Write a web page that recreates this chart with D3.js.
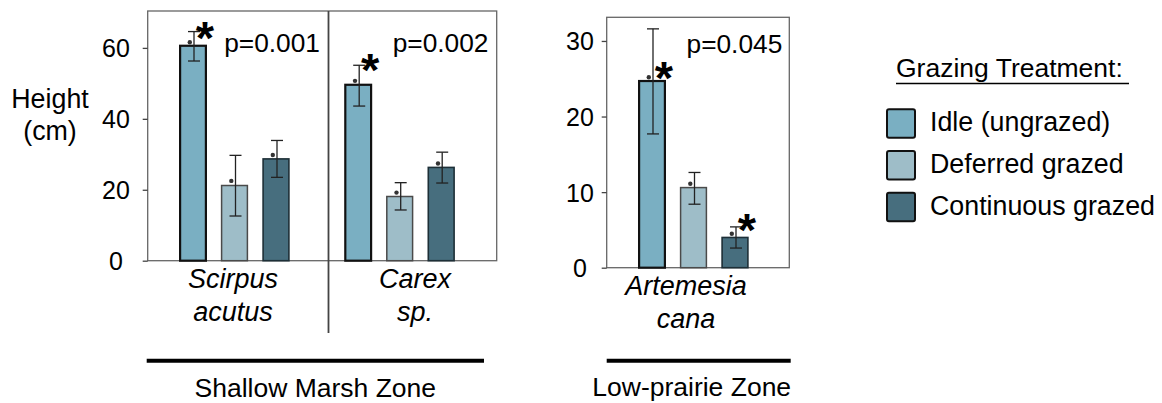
<!DOCTYPE html>
<html>
<head>
<meta charset="utf-8">
<script src="https://cdn.jsdelivr.net/npm/d3@7"></script>
<style>
  body { margin: 0; background: #fff; }
  svg { display: block; }
  text { font-family: "Liberation Sans", Arial, Helvetica, sans-serif; fill: #000; }
</style>
</head>
<body>
<svg id="chart" width="1162" height="403"></svg>
<script>
// Treatments and species
const treatments = ["Idle (ungrazed)", "Deferred grazed", "Continuous grazed"];
const marshSpecies = ["Scirpus acutus", "Carex sp."];
const prairieSpecies = ["Artemesia cana"];

// Mean plant height (cm) with error-bar limits and plotted point, per treatment
const scirpusMean  = [60.6, 21.2, 28.7];
const scirpusLow   = [56.3, 12.6, 23.5];
const scirpusHigh  = [64.6, 29.7, 33.9];
const scirpusPoint = [61.6, 22.5, 29.8];

const carexMean  = [49.6, 18.1, 26.3];
const carexLow   = [43.6, 14.3, 21.9];
const carexHigh  = [55.1, 22.0, 30.6];
const carexPoint = [50.7, 19.2, 27.4];

const artemesiaMean  = [24.7, 10.6, 4.0];
const artemesiaLow   = [17.7, 8.4, 2.6];
const artemesiaHigh  = [31.6, 12.6, 5.4];
const artemesiaPoint = [25.2, 11.1, 4.5];

// Significance markers: species, treatment, height at which the asterisk sits
const starSpecies   = ["Scirpus acutus", "Carex sp.", "Artemesia cana", "Artemesia cana"];
const starTreatment = ["Idle (ungrazed)", "Idle (ungrazed)", "Idle (ungrazed)", "Continuous grazed"];
const starHeight    = [65.6, 56.6, 26.4, 6.3];

const pLabels = ["p=0.001", "p=0.002", "p=0.045"];
const marshTicks = [0, 20, 40, 60];
const prairieTicks = [0, 10, 20, 30];
const zoneNames = ["Shallow Marsh Zone", "Low-prairie Zone"];
const speciesLines = { "Scirpus acutus": ["Scirpus", "acutus"], "Carex sp.": ["Carex", "sp."], "Artemesia cana": ["Artemesia", "cana"] };

const colors = d3.scaleOrdinal().domain(treatments).range(["#7aafc2", "#9ebdc8", "#476e7e"]);
const outlines = d3.scaleOrdinal().domain(treatments).range(["#111", "#4a4a4a", "#1d2f37"]);
const outlineWidth = d3.scaleOrdinal().domain(treatments).range([2.2, 1.5, 1.6]);

const svg = d3.select("#chart");
svg.append("rect").attr("width", 1162).attr("height", 403).attr("fill", "#fff");

function rows(species, mean, low, high, point) {
  return treatments.map((t, i) => ({ species, treatment: t, mean: mean[i], low: low[i], high: high[i], point: point[i] }));
}
const marshData = rows("Scirpus acutus", scirpusMean, scirpusLow, scirpusHigh, scirpusPoint)
  .concat(rows("Carex sp.", carexMean, carexLow, carexHigh, carexPoint));
const prairieData = rows("Artemesia cana", artemesiaMean, artemesiaLow, artemesiaHigh, artemesiaPoint);

// Offsets of the three treatment bars within a species group
const inner = d3.scalePoint().domain(treatments).range([-41.5, 41.5]);
const barW = 25.8;

const panels = [
  {
    species: marshSpecies, data: marshData, ticks: marshTicks,
    left: 147.7, right: 496.7, top: 11, bottom: 260.7, yMax: 70.4,
    group: d3.scalePoint().domain(marshSpecies).range([234.5, 399.7]),
    labelX: d3.scalePoint().domain(marshSpecies).range([233, 415]),
    labelY: 288.3, tickLabelX: 116, divider: 328.5,
    pRight: [320, 488.5], pBaseline: 51.7, p: [pLabels[0], pLabels[1]],
    zone: zoneNames[0], zoneLine: [146.7, 484], zoneCenter: 315.3, zoneBaseline: 396.7
  },
  {
    species: prairieSpecies, data: prairieData, ticks: prairieTicks,
    left: 606.7, right: 789.3, top: 17.3, bottom: 267.7, yMax: 33.13,
    group: d3.scalePoint().domain(prairieSpecies).range([693.5, 693.5]),
    labelX: d3.scalePoint().domain(prairieSpecies).range([686, 686]),
    labelY: 295, tickLabelX: 580, divider: null,
    pRight: [782.3], pBaseline: 52.7, p: [pLabels[2]],
    zone: zoneNames[1], zoneLine: [606.7, 790.7], zoneCenter: 691.7, zoneBaseline: 395.7
  }
];

panels.forEach(P => {
  const y = d3.scaleLinear().domain([0, P.yMax]).range([P.bottom, P.top]);
  const xc = d => P.group(d.species) + inner(d.treatment);
  const g = svg.append("g");

  // Frame
  g.append("rect")
    .attr("x", P.left).attr("y", P.top)
    .attr("width", P.right - P.left).attr("height", P.bottom - P.top)
    .attr("fill", "none").attr("stroke", "#666").attr("stroke-width", 1.3);

  // Y axis
  const ax = g.append("g").attr("transform", `translate(${P.left},0)`)
    .call(d3.axisLeft(y).tickValues(P.ticks).tickSize(5).tickFormat(d3.format("d")));
  ax.select(".domain").remove();
  ax.selectAll(".tick line").attr("stroke", "#444").attr("stroke-width", 1.3);
  ax.selectAll(".tick text")
    .attr("x", P.tickLabelX - P.left)
    .attr("text-anchor", "middle")
    .attr("dy", "0.36em")
    .style("font-size", "25px")
    .style("font-family", "'Liberation Sans', Arial, sans-serif")
    .attr("fill", "#000");

  if (P.divider !== null) {
    g.append("line")
      .attr("x1", P.divider).attr("x2", P.divider)
      .attr("y1", P.top).attr("y2", 333)
      .attr("stroke", "#444").attr("stroke-width", 1.8);
  }

  // Bars
  g.selectAll("rect.bar").data(P.data).join("rect")
    .attr("class", "bar")
    .attr("x", d => xc(d) - barW / 2)
    .attr("width", barW)
    .attr("y", d => y(d.mean))
    .attr("height", d => y(0) - y(d.mean))
    .attr("fill", d => colors(d.treatment))
    .attr("stroke", d => outlines(d.treatment))
    .attr("stroke-width", d => outlineWidth(d.treatment));

  // Error bars
  const eb = g.selectAll("g.err").data(P.data).join("g").attr("class", "err")
    .attr("stroke", "#222").attr("stroke-width", 1.3);
  eb.append("line")
    .attr("x1", d => xc(d) + 1).attr("x2", d => xc(d) + 1)
    .attr("y1", d => y(d.low)).attr("y2", d => y(d.high));
  eb.append("line")
    .attr("x1", d => xc(d) - 5).attr("x2", d => xc(d) + 7)
    .attr("y1", d => y(d.high)).attr("y2", d => y(d.high));
  eb.append("line")
    .attr("x1", d => xc(d) - 5).attr("x2", d => xc(d) + 7)
    .attr("y1", d => y(d.low)).attr("y2", d => y(d.low));

  // Points
  g.selectAll("circle.pt").data(P.data).join("circle")
    .attr("class", "pt")
    .attr("cx", d => xc(d) - 3.2)
    .attr("cy", d => y(d.point))
    .attr("r", 2.2)
    .attr("fill", "#333");

  // Significance asterisks
  const stars = starSpecies.map((s, i) => ({ species: s, treatment: starTreatment[i], h: starHeight[i] }))
    .filter(s => P.species.includes(s.species));
  g.selectAll("text.star").data(stars).join("text")
    .attr("class", "star")
    .attr("x", d => P.group(d.species) + inner(d.treatment) + 12)
    .attr("y", d => y(d.h) + 26)
    .attr("text-anchor", "middle")
    .style("font-size", "47px")
    .style("font-weight", "bold")
    .text("*");

  // p-values
  g.selectAll("text.p").data(P.p).join("text")
    .attr("class", "p")
    .attr("x", (d, i) => P.pRight[i])
    .attr("y", P.pBaseline)
    .attr("text-anchor", "end")
    .style("font-size", "26.3px")
    .text(d => d);

  // Species labels
  P.species.forEach(s => {
    speciesLines[s].forEach((line, i) => {
      g.append("text")
        .attr("x", P.labelX(s))
        .attr("y", P.labelY + i * 32.7)
        .attr("text-anchor", "middle")
        .style("font-size", "27px")
        .style("font-style", "italic")
        .text(line);
    });
  });

  // Zone bracket line and name
  g.append("line")
    .attr("x1", P.zoneLine[0]).attr("x2", P.zoneLine[1])
    .attr("y1", 360.7).attr("y2", 360.7)
    .attr("stroke", "#000").attr("stroke-width", 4);
  g.append("text")
    .attr("x", P.zoneCenter).attr("y", P.zoneBaseline)
    .attr("text-anchor", "middle")
    .style("font-size", "26.5px")
    .text(P.zone);
});

// Y-axis title
svg.append("text").attr("x", 50).attr("y", 108.3).attr("text-anchor", "middle")
  .style("font-size", "26.8px").text("Height");
svg.append("text").attr("x", 50).attr("y", 139.5).attr("text-anchor", "middle")
  .style("font-size", "26.8px").text("(cm)");

// Legend
const legend = svg.append("g");
legend.append("text").attr("x", 896).attr("y", 77)
  .style("font-size", "26.5px").text("Grazing Treatment:");
legend.append("line").attr("x1", 896).attr("x2", 1129).attr("y1", 83.5).attr("y2", 83.5)
  .attr("stroke", "#000").attr("stroke-width", 1.6);
const legendY = d3.scalePoint().domain(treatments).range([109.3, 192.7]);
const items = legend.selectAll("g.item").data(treatments).join("g").attr("class", "item")
  .attr("transform", d => `translate(0,${legendY(d)})`);
items.append("rect")
  .attr("x", 887).attr("y", 0).attr("width", 28).attr("height", 28.5).attr("rx", 2)
  .attr("fill", d => colors(d)).attr("stroke", "#111").attr("stroke-width", 2);
items.append("text")
  .attr("x", 930).attr("y", 21.8)
  .style("font-size", "26.8px")
  .text(d => d);
</script>
</body>
</html>
